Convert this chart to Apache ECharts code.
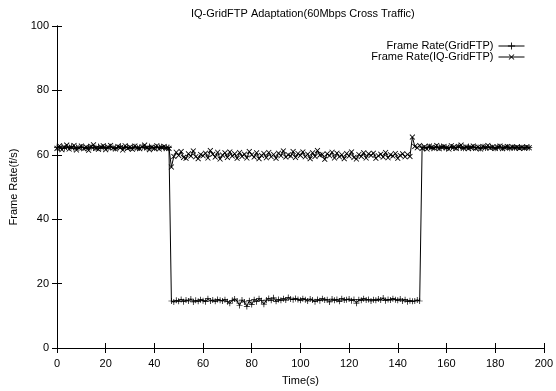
<!DOCTYPE html>
<html>
<head>
<meta charset="utf-8">
<script src="https://cdn.jsdelivr.net/npm/echarts@6/dist/echarts.min.js"></script>
<style>
  html, body { margin: 0; padding: 0; background: #fff; }
  #chart { width: 556px; height: 391px; }
</style>
</head>
<body>
<div id="chart"></div>
<script>
// values sampled once per second, index = time in seconds
const gridftp = [
  62.3,62.1,62.5,62.0,62.4,62.2,62.6,61.9,62.3,62.1,
  62.4,62.2,62.0,62.5,62.3,62.1,62.2,62.6,62.0,62.3,
  62.4,62.1,62.5,62.2,62.0,62.3,62.7,62.1,62.2,62.4,
  62.0,62.3,62.5,62.1,62.2,62.4,62.3,62.0,62.6,62.2,
  62.1,62.4,62.3,62.5,62.0,62.2,62.3,
  14.6,14.3,14.8,
  14.5,15.1,14.4,14.9,14.6,15.2,14.3,14.8,14.5,15.0,
  14.7,14.4,15.3,14.6,14.9,14.5,15.1,14.8,14.6,15.0,
  14.4,13.9,14.8,15.2,14.6,13.2,14.9,14.3,12.9,14.7,
  13.5,15.0,14.4,15.3,14.7,13.6,14.9,15.4,14.8,15.6,
  14.5,15.1,14.8,15.3,14.9,15.7,15.2,15.0,15.4,15.1,
  14.8,15.3,15.0,14.6,15.2,14.9,14.4,15.1,14.7,15.3,
  14.9,15.0,14.3,15.2,14.8,15.1,14.5,15.3,14.9,15.0,
  15.2,14.7,15.1,13.9,15.0,14.8,15.3,14.9,15.1,14.6,
  15.0,14.8,15.2,14.9,15.5,14.7,15.1,14.9,15.3,15.0,
  14.8,15.2,14.6,15.0,14.4,14.7,14.5,14.6,14.9,14.6,
  62.4,62.1,
  62.3,62.5,62.0,62.2,62.4,62.1,62.6,62.3,62.0,62.2,
  62.4,62.1,62.3,62.5,62.2,62.0,62.3,62.6,62.1,62.4,
  62.2,62.3,62.0,62.5,62.1,62.3,62.4,62.2,62.0,62.3,
  62.5,62.1,62.2,62.4,62.0,62.3,62.2,62.1,62.4,62.2,
  62.3,62.1,62.2
];

const iqGridftp = [
  62.0,62.8,61.6,62.4,63.0,61.8,62.3,62.9,61.5,62.2,
  62.7,61.9,62.4,61.4,62.6,63.1,62.0,61.7,62.5,62.8,
  61.6,62.3,62.9,62.1,61.8,62.6,62.2,61.5,62.8,62.0,
  62.4,61.7,62.7,62.1,61.9,62.5,63.0,62.2,61.6,62.4,
  62.0,62.8,61.8,62.3,62.6,62.1,62.0,
  56.2,59.5,60.8,
  59.8,61.0,59.2,58.9,60.3,59.6,61.2,59.4,58.8,60.1,
  59.7,60.5,59.0,61.3,60.2,59.3,60.8,58.7,59.9,60.6,
  59.2,60.9,59.6,60.3,58.9,60.7,59.5,60.2,59.0,61.0,
  60.0,59.3,60.6,58.8,59.8,60.4,59.1,60.7,59.4,60.1,
  58.9,60.5,59.7,61.2,59.3,60.0,59.6,61.0,59.2,60.4,
  59.8,60.9,59.4,60.2,58.8,60.6,59.5,61.3,59.9,60.1,
  58.6,60.3,59.7,60.8,59.0,60.5,59.4,60.0,58.8,60.4,
  59.6,60.9,59.2,58.7,60.1,59.5,60.6,59.0,60.3,59.8,
  60.5,58.9,59.7,60.2,59.3,60.7,59.1,60.0,59.6,60.4,
  58.9,59.8,60.3,59.4,60.1,59.5,
  65.5,
  62.6,62.2,62.9,
  62.0,62.5,61.8,62.7,62.3,62.1,62.9,61.9,62.4,62.6,
  62.2,61.8,62.8,62.4,62.0,62.6,63.0,62.1,62.5,61.9,
  62.3,62.7,62.0,62.4,61.8,62.6,62.2,62.9,62.1,62.5,
  62.0,62.4,62.7,61.9,62.3,62.6,62.1,62.5,62.2,62.4,
  62.0,62.3,62.1,62.5,62.2
];

const seriesNames = ['Frame Rate(GridFTP)', 'Frame Rate(IQ-GridFTP)'];

// thin plus shape, rotated 45deg for the cross
const plusPath = 'path://M4.4,0H5.6V4.4H10V5.6H5.6V10H4.4V5.6H0V4.4H4.4Z';

const font = 'Liberation Sans, Arial, sans-serif';
const chart = echarts.init(document.getElementById('chart'));

const axisCommon = {
  axisLine: { show: true, lineStyle: { color: '#000', width: 1 } },
  axisTick: { show: true, inside: true, length: 5, lineStyle: { color: '#000' } },
  splitLine: { show: false },
  axisLabel: { color: '#000', fontFamily: font, fontSize: 11 }
};

chart.setOption({
  animation: false,
  backgroundColor: '#fff',
  title: {
    text: 'IQ-GridFTP Adaptation(60Mbps Cross Traffic)',
    left: 186,
    top: 3,
    textStyle: { fontFamily: font, fontSize: 11, fontWeight: 'normal', color: '#000' }
  },
  legend: {
    data: seriesNames,
    orient: 'vertical',
    right: 31,
    top: 40,
    padding: 0,
    align: 'right',
    itemWidth: 26,
    itemHeight: 9,
    itemGap: -1,
    lineStyle: { width: 1, color: '#000' },
    textStyle: { fontFamily: font, fontSize: 11, lineHeight: 12, color: '#000' }
  },
  grid: { left: 57, right: 10, top: 26, bottom: 37 },
  xAxis: [
    Object.assign({}, axisCommon, {
      type: 'value', min: 0, max: 200, interval: 20,
      name: 'Time(s)', nameLocation: 'middle', nameGap: 27,
      nameTextStyle: { fontFamily: font, fontSize: 11, color: '#000' },
      axisLabel: Object.assign({}, axisCommon.axisLabel, { margin: 10 })
    }),
    Object.assign({}, axisCommon, {
      type: 'value', min: 0, max: 200, interval: 20, position: 'top',
      axisLabel: { show: false }
    })
  ],
  yAxis: [
    Object.assign({}, axisCommon, {
      type: 'value', min: 0, max: 100, interval: 20,
      name: 'Frame Rate(f/s)', nameLocation: 'middle', nameGap: 38,
      nameTextStyle: { fontFamily: font, fontSize: 11, color: '#000' },
      axisLabel: Object.assign({}, axisCommon.axisLabel, { margin: 8 })
    }),
    Object.assign({}, axisCommon, {
      type: 'value', min: 0, max: 100, interval: 20, position: 'right',
      axisLabel: { show: false }
    })
  ],
  series: [
    {
      name: seriesNames[0],
      type: 'line',
      data: gridftp.map((v, i) => [i, v]),
      symbol: plusPath,
      symbolSize: 6,
      showAllSymbol: true,
      lineStyle: { color: '#000', width: 1 },
      itemStyle: { color: '#000' }
    },
    {
      name: seriesNames[1],
      type: 'line',
      data: iqGridftp.map((v, i) => [i, v]),
      symbol: plusPath,
      symbolRotate: 45,
      symbolSize: 7,
      showAllSymbol: true,
      lineStyle: { color: '#000', width: 1 },
      itemStyle: { color: '#000' }
    }
  ]
});
</script>
</body>
</html>
